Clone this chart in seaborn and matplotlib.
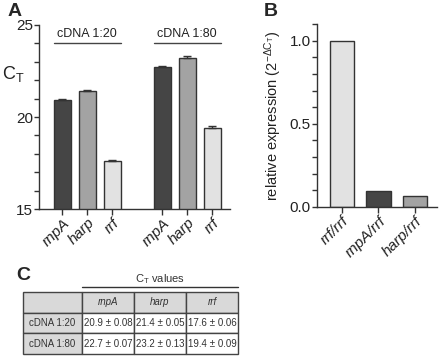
import numpy as np
import pandas as pd
import matplotlib
matplotlib.use("Agg")
import matplotlib.pyplot as plt
import seaborn as sns

sns.set_theme(style="ticks")
plt.rcParams['font.family'] = ['Liberation Sans', 'DejaVu Sans']
plt.rcParams['mathtext.fontset'] = 'custom'
plt.rcParams['mathtext.rm'] = 'Liberation Sans'
plt.rcParams['mathtext.it'] = 'Liberation Sans:italic'

# ---- data ----
genes = ["rnpA", "harp", "rrf"]
dilutions = ["cDNA 1:20", "cDNA 1:80"]
ct_120 = [20.9, 21.4, 17.6]
sd_120 = [0.08, 0.05, 0.06]
ct_180 = [22.7, 23.2, 19.4]
sd_180 = [0.07, 0.13, 0.09]
ratio_labels = ["rrf/rrf", "rnpA/rrf", "harp/rrf"]
ratio_values = [1.0, 0.097, 0.068]

gene_colors = {"rnpA": "#454545", "harp": "#a3a3a3", "rrf": "#e2e2e2"}
ratio_colors = ["#e2e2e2", "#454545", "#a3a3a3"]
DARK = "#333333"

W, H = 440, 356
fig = plt.figure(figsize=(W / 100, H / 100), dpi=100)

def px_axes(x0, y0, x1, y1):
    return fig.add_axes([x0 / W, 1 - y1 / H, (x1 - x0) / W, (y1 - y0) / H])

def style_axes(ax):
    for s in ["top", "right"]:
        ax.spines[s].set_visible(False)
    for s in ["left", "bottom"]:
        ax.spines[s].set_color(DARK)
        ax.spines[s].set_linewidth(1.0)
    ax.set_facecolor("none")
    ax.tick_params(axis="both", which="major", length=4, width=1.0, color=DARK,
                   labelcolor="#222222", labelsize=11, pad=1)
    ax.tick_params(axis="y", which="major", length=3.5)

def set_y_ticks(ax, lo, hi, step, label_every, fmt):
    vals = np.round(np.arange(lo, hi + step / 2, step), 6)
    labels = [fmt.format(v) if abs(v / label_every - round(v / label_every)) < 1e-6 else ""
              for v in vals]
    ax.set_yticks(vals)
    ax.set_yticklabels(labels)

# ---- Panel A ----
rows = []
for gi, (d, cts, sds) in enumerate([(dilutions[0], ct_120, sd_120), (dilutions[1], ct_180, sd_180)]):
    for j, g in enumerate(genes):
        rows.append(dict(dilution=d, gene=g, ct=cts[j], sd=sds[j], pos=gi * 4 + j))
df = pd.DataFrame(rows)

axA = px_axes(39, 25, 230, 209)
sns.barplot(data=df, x="pos", y="ct", hue="gene", palette=gene_colors, native_scale=True,
            width=0.68, dodge=False, edgecolor=DARK, linewidth=1.0, legend=False, ax=axA)
axA.errorbar(df["pos"], df["ct"], yerr=[np.zeros(len(df)), df["sd"]], fmt="none",
             ecolor=DARK, elinewidth=1.0, capsize=3, capthick=1.0)
axA.set_ylim(15, 25)
axA.set_xlim(-0.94, 6.72)
axA.set_xticks(df["pos"])
axA.set_xticklabels(df["gene"], rotation=45, ha="right", rotation_mode="anchor",
                    fontstyle="italic", fontsize=11)
set_y_ticks(axA, 15, 25, 1, 5, "{:.0f}")
axA.set_xlabel("")
axA.set_ylabel(r"$\mathregular{C_T}$", rotation=0, fontsize=13, color="#222222")
axA.yaxis.set_label_coords(-0.135, 0.68)
style_axes(axA)
for gi, d in enumerate(dilutions):
    x0 = gi * 4 - 0.34
    x1 = gi * 4 + 2.34
    axA.plot([x0, x1], [24.0, 24.0], color="#444444", lw=1.0, clip_on=False)
    axA.text((x0 + x1) / 2, 24.5, d, ha="center", va="center", fontsize=9, color="#222222")

# ---- Panel B ----
dfb = pd.DataFrame(dict(label=ratio_labels, value=ratio_values))
axB = px_axes(317, 24, 437, 207)
sns.barplot(data=dfb, x="label", y="value", hue="label", palette=ratio_colors,
            width=0.66, edgecolor=DARK, linewidth=1.0, legend=False, ax=axB)
axB.set_ylim(0, 1.1)
axB.set_xlim(-0.68, 2.6)
axB.set_xticks(range(len(ratio_labels)))
axB.set_xticklabels(ratio_labels, rotation=45, ha="right", rotation_mode="anchor",
                    fontstyle="italic", fontsize=10)
set_y_ticks(axB, 0.0, 1.1, 0.1, 0.5, "{:.1f}")
axB.set_ylim(0, 1.1)
axB.set_xlabel("")
axB.set_ylabel(r"relative expression (2$^{\mathregular{-\Delta C_T}}$)", fontsize=10.5,
               color="#222222", labelpad=4)
style_axes(axB)

# ---- Panel C (table) ----
axC = px_axes(23, 292, 238, 354)
axC.axis("off")
cell_text = [[""] + genes]
for d, cts, sds in [(dilutions[0], ct_120, sd_120), (dilutions[1], ct_180, sd_180)]:
    cell_text.append([d] + [f"{c:.1f} ± {s:.2f}" for c, s in zip(cts, sds)])
grey = "#d9d9d9"
cell_colors = [[grey] * 4, [grey, "white", "white", "white"], [grey, "white", "white", "white"]]
tbl = axC.table(cellText=cell_text, cellColours=cell_colors, bbox=[0, 0, 1, 1],
                colWidths=[59, 52, 52, 52], cellLoc="center")
tbl.auto_set_font_size(False)
for (r, c), cell in tbl.get_celld().items():
    cell.set_edgecolor("#444444")
    cell.set_linewidth(1.0)
    cell.PAD = 0.02
    cell.get_text().set_fontsize(7.0)
    cell.get_text().set_color("#333333")
    if r == 0 and c > 0:
        cell.get_text().set_fontstyle("italic")

fig.text(160 / W, 1 - 279 / H, r"$\mathregular{C_T}$ values", ha="center", va="center",
         fontsize=8, color="#333333")
fig.add_artist(plt.Line2D([82 / W, 238 / W], [1 - 287 / H, 1 - 287 / H], color="#333333", lw=1.0))

# ---- panel letters ----
fig.text(8 / W, 1 - 11 / H, "A", fontsize=14, fontweight="bold", va="center", ha="left")
fig.text(264 / W, 1 - 11 / H, "B", fontsize=14, fontweight="bold", va="center", ha="left")
fig.text(16 / W, 1 - 276 / H, "C", fontsize=14, fontweight="bold", va="center", ha="left")

fig.savefig("out.png", dpi=100)
